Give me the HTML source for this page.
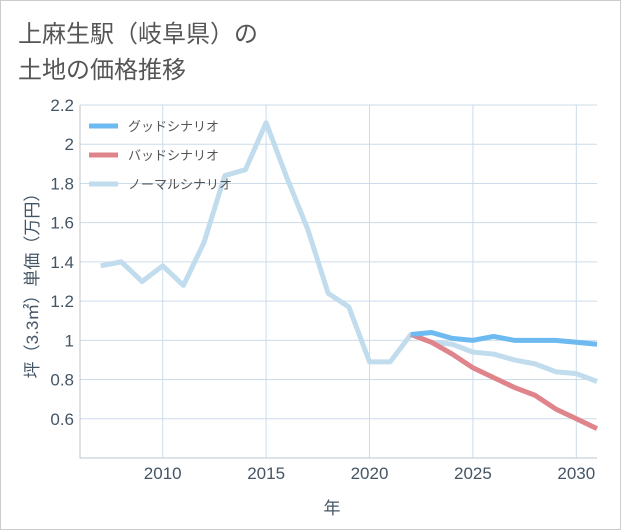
<!DOCTYPE html>
<html><head><meta charset="utf-8"><style>
body{margin:0;background:#fff;font-family:"Liberation Sans","Noto Sans CJK JP",sans-serif;}
#wrap{position:relative;width:619px;height:528px;border:1px solid #ccc;}
</style></head><body>
<div id="wrap">
<svg id="chart" width="621" height="530" style="position:absolute;left:-1px;top:-1px">
<text x="18" y="42" font-size="24" fill="#555">上麻生駅（岐阜県）の</text>
<text x="18" y="78" font-size="24" fill="#555">土地の価格推移</text>
</svg>
</div>
<script>
const years=[2007,2008,2009,2010,2011,2012,2013,2014,2015,2016,2017,2018,2019,2020,2021,2022,2023,2024,2025,2026,2027,2028,2029,2030,2031];
const normal=[1.38,1.40,1.30,1.38,1.28,1.50,1.84,1.87,2.11,1.83,1.57,1.24,1.17,0.89,0.89,1.03,0.99,0.98,0.94,0.93,0.90,0.88,0.84,0.83,0.79];
const futureYears=[2022,2023,2024,2025,2026,2027,2028,2029,2030,2031];
const good=[1.03,1.04,1.01,1.00,1.02,1.00,1.00,1.00,0.99,0.98];
const bad=[1.03,0.99,0.93,0.86,0.81,0.76,0.72,0.65,0.60,0.55];
const yTicks=[0.6,0.8,1,1.2,1.4,1.6,1.8,2,2.2];
const xTicks=[2010,2015,2020,2025,2030];
const svg=document.getElementById('chart');const NS='http://www.w3.org/2000/svg';
const L=80,R=597,T=105,B=458;
const x=v=>L+(v-2006)/(2031-2006)*(R-L);
const y=v=>B-(v-0.4)/(2.2-0.4)*(B-T);
function mk(t,a){const e=document.createElementNS(NS,t);for(const k in a)e.setAttribute(k,a[k]);svg.appendChild(e);return e;}
let g;
for(const t of yTicks){g=mk('line',{x1:L,x2:R,y1:y(t),y2:y(t),stroke:'#cddcea','stroke-width':1});


g=mk('text',{x:L-6,y:y(t)+6,'text-anchor':'end','font-size':17,fill:'#445566'});g.textContent=t;

}
for(const t of xTicks){g=mk('line',{x1:x(t),x2:x(t),y1:T,y2:B,stroke:'#cddcea','stroke-width':1});


g=mk('text',{x:x(t),y:B+21,'text-anchor':'middle','font-size':17,fill:'#445566'});g.textContent=t;

}
g=mk('path',{d:`M${L},${T}V${B}H${R}`,fill:'none',stroke:'#b8c4ce'});


function line(xs,vs,c,n){const p=mk('polyline',{points:xs.map((v,i)=>x(v)+','+y(vs[i])).join(' '),fill:'none',stroke:c,'stroke-width':5,'stroke-linejoin':'round'});

}
line(years,normal,'#c0dced','normal-scenario-line');
line(futureYears,bad,'#e0848c','bad-scenario-line');
line(futureYears,good,'#6cbaf0','good-scenario-line');
const leg=[['グッドシナリオ','#6cbaf0'],['バッドシナリオ','#e0848c'],['ノーマルシナリオ','#c0dced']];
leg.forEach((l,i)=>{const yy=126+i*29;
g=mk('line',{x1:89,x2:118,y1:yy,y2:yy,stroke:l[1],'stroke-width':5});


g=mk('text',{x:128,y:yy+5,'font-size':13,fill:'#555'});g.textContent=l[0];

});
g=mk('text',{x:332,y:514,'text-anchor':'middle','font-size':17,fill:'#445566'});g.textContent='年';


g=mk('text',{x:0,y:0,'text-anchor':'middle','font-size':17,fill:'#445566',transform:`translate(38,${(T+B)/2}) rotate(-90)`});g.textContent='坪（3.3㎡）単価（万円）';


</script>
</body></html>
